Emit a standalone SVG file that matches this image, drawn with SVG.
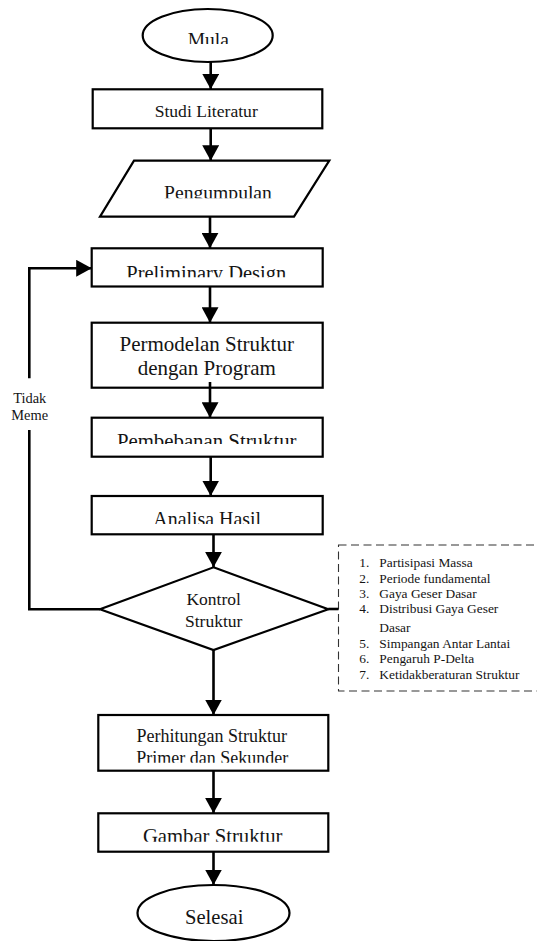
<svg xmlns="http://www.w3.org/2000/svg" width="537" height="941" viewBox="0 0 537 941">
<style>
.shape{fill:#fff;stroke:#000;stroke-width:2.2}
.t{font-family:"Liberation Serif","Times New Roman",serif;fill:#141414;text-anchor:middle}
.l{font-family:"Liberation Serif","Times New Roman",serif;fill:#141414;font-size:13.4px}
.c{fill:none;stroke:#000;stroke-width:2.6}
.dash{fill:none;stroke:#333;stroke-width:1.1;stroke-dasharray:8 4.5}
</style>
<defs>
<marker id="ah" markerUnits="userSpaceOnUse" markerWidth="17" markerHeight="17" refX="15.5" refY="8.5" orient="auto">
<path d="M0,0 L15.5,8.5 L0,17 z" fill="#000"/>
</marker>
<clipPath id="cMula"><rect x="0" y="0" width="537" height="44"/></clipPath>
<clipPath id="cPeng"><rect x="0" y="150" width="537" height="48.3"/></clipPath>
<clipPath id="cPre"><rect x="0" y="250" width="537" height="27.3"/></clipPath>
<clipPath id="cPem"><rect x="0" y="420" width="537" height="24"/></clipPath>
<clipPath id="cAna"><rect x="0" y="498" width="537" height="26"/></clipPath>
<clipPath id="cPri"><rect x="0" y="745" width="537" height="17.7"/></clipPath>
<clipPath id="cGam"><rect x="0" y="815" width="537" height="26.7"/></clipPath>
</defs>

<g id="mula">
<ellipse class="shape" cx="207.7" cy="35.5" rx="65" ry="26.5"/>
<text class="t" x="208.3" y="46" font-size="19.5" clip-path="url(#cMula)">Mula</text>
</g>
<g id="studi-literatur">
<rect class="shape" x="92.7" y="89.3" width="229.6" height="39"/>
<text class="t" x="206.2" y="117" font-size="17.6">Studi Literatur</text>
</g>
<g id="pengumpulan">
<polygon class="shape" points="134,160.7 329.3,160.7 294,216.7 100,216.7"/>
<text class="t" x="218" y="199" font-size="19.6" clip-path="url(#cPeng)">Pengumpulan</text>
</g>
<g id="preliminary-design">
<rect class="shape" x="91.7" y="248.3" width="231" height="38.2"/>
<text class="t" x="206.3" y="279.5" font-size="20.5" clip-path="url(#cPre)">Preliminary Design</text>
</g>
<g id="permodelan">
<rect class="shape" x="91.7" y="322.7" width="231" height="65"/>
<text class="t" x="206.7" y="351" font-size="21">Permodelan Struktur</text>
<text class="t" x="206.8" y="375" font-size="21">dengan Program</text>
</g>
<g id="pembebanan">
<rect class="shape" x="91.7" y="417.7" width="231" height="39"/>
<text class="t" x="206.7" y="447.5" font-size="20.8" clip-path="url(#cPem)">Pembebanan Struktur</text>
</g>
<g id="analisa-hasil">
<rect class="shape" x="91.7" y="496" width="231" height="38.3"/>
<text class="t" x="207.2" y="526" font-size="19.9" clip-path="url(#cAna)">Analisa Hasil</text>
</g>
<g id="kontrol-struktur">
<polygon class="shape" points="213.5,567.3 328.3,609.3 213.5,650 100,609.3"/>
<text class="t" x="213.7" y="605" font-size="17.5">Kontrol</text>
<text class="t" x="213.7" y="626.7" font-size="17.5">Struktur</text>
</g>
<g id="kriteria">
<rect class="dash" x="338.5" y="545" width="205" height="146"/>
<text class="l" x="359.3" y="567">1.</text><text class="l" x="379.3" y="567">Partisipasi Massa</text>
<text class="l" x="359.3" y="583">2.</text><text class="l" x="379.3" y="583">Periode fundamental</text>
<text class="l" x="359.3" y="598.3">3.</text><text class="l" x="379.3" y="598.3">Gaya Geser Dasar</text>
<text class="l" x="359.3" y="613.3">4.</text><text class="l" x="379.3" y="613.3">Distribusi Gaya Geser</text>
<text class="l" x="379.3" y="631.7">Dasar</text>
<text class="l" x="359.3" y="648.3">5.</text><text class="l" x="379.3" y="648.3">Simpangan Antar Lantai</text>
<text class="l" x="359.3" y="663.3">6.</text><text class="l" x="379.3" y="663.3">Pengaruh P-Delta</text>
<text class="l" x="359.3" y="679">7.</text><text class="l" x="379.3" y="679">Ketidakberaturan Struktur</text>
</g>
<g id="perhitungan">
<rect class="shape" x="98.3" y="715" width="230" height="55.7"/>
<text class="t" x="211.7" y="742" font-size="18">Perhitungan Struktur</text>
<text class="t" x="212.2" y="764" font-size="18" clip-path="url(#cPri)">Primer dan Sekunder</text>
</g>
<g id="gambar-struktur">
<rect class="shape" x="98.3" y="813.3" width="230" height="38.4"/>
<text class="t" x="212.7" y="843" font-size="20.7" clip-path="url(#cGam)">Gambar Struktur</text>
</g>
<g id="selesai">
<ellipse class="shape" cx="213.5" cy="913" rx="76" ry="28"/>
<text class="t" x="214.2" y="924" font-size="20.6">Selesai</text>
</g>

<g id="connectors">
<line class="c" x1="210.7" y1="62" x2="210.7" y2="89.3" marker-end="url(#ah)"/>
<line class="c" x1="210.7" y1="128.3" x2="210.7" y2="160.7" marker-end="url(#ah)"/>
<line class="c" x1="210" y1="216.7" x2="210" y2="248.3" marker-end="url(#ah)"/>
<line class="c" x1="210" y1="286.5" x2="210" y2="322.7" marker-end="url(#ah)"/>
<line class="c" x1="210" y1="382" x2="210" y2="417.7" marker-end="url(#ah)"/>
<line class="c" x1="210.7" y1="456.7" x2="210.7" y2="496" marker-end="url(#ah)"/>
<line class="c" x1="213.5" y1="534.3" x2="213.5" y2="567.3" marker-end="url(#ah)"/>
<line class="c" x1="213.5" y1="650" x2="213.5" y2="715" marker-end="url(#ah)"/>
<line class="c" x1="213.5" y1="770.7" x2="213.5" y2="813.3" marker-end="url(#ah)"/>
<line class="c" x1="213.5" y1="851.7" x2="213.5" y2="885" marker-end="url(#ah)"/>
<path class="c" d="M100,609.3 H29.3 V430 M29.3,378.3 V268.3 H91.7" marker-end="url(#ah)"/>
<line class="c" x1="328.3" y1="609" x2="338.5" y2="609"/>
<g id="label-tidak">
<text class="t" x="29.7" y="402.7" font-size="14.4">Tidak</text>
<text class="t" x="29.7" y="420" font-size="14.4">Meme</text>
</g>
</g>
</svg>
